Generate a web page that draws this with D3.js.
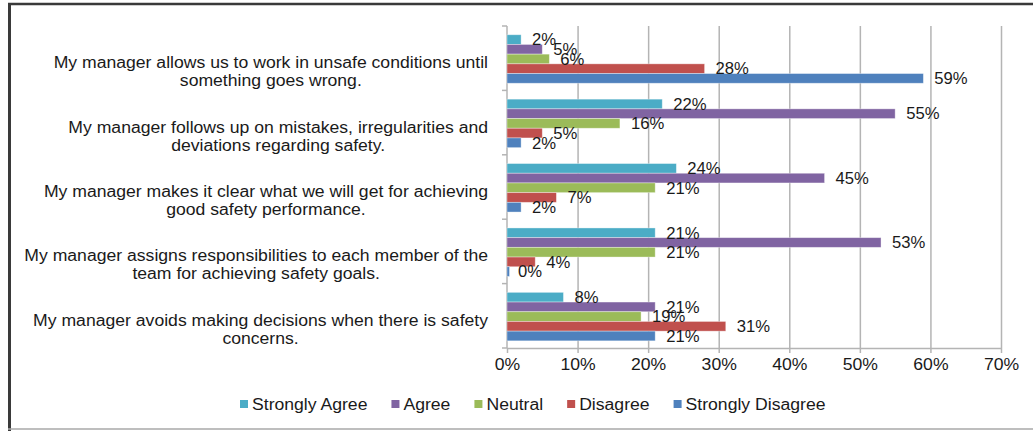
<!DOCTYPE html>
<html>
<head>
<meta charset="utf-8">
<script src="https://cdn.jsdelivr.net/npm/d3@7"></script>
<style>
  html, body { margin: 0; padding: 0; background: #fff; }
  svg { display: block; font-family: "Liberation Sans", Arial, sans-serif; }
</style>
</head>
<body>
<svg id="chart" width="1033" height="431"></svg>
<script>
// Survey statements (each split into its two display lines)
const categories = ["q1", "q2", "q3", "q4", "q5"];
const categoryLines = [
  ["My manager allows us to work in unsafe conditions until", "something goes wrong."],
  ["My manager follows up on mistakes, irregularities and", "deviations regarding safety."],
  ["My manager makes it clear what we will get for achieving", "good safety performance."],
  ["My manager assigns responsibilities to each member of the", "team for achieving safety goals."],
  ["My manager avoids making decisions when there is safety", "concerns."]
];

// Response shares in percent, one array per answer
const seriesNames = ["Strongly Agree", "Agree", "Neutral", "Disagree", "Strongly Disagree"];
const stronglyAgree    = [2, 22, 24, 21, 8];
const agree            = [5, 55, 45, 53, 21];
const neutral          = [6, 16, 21, 21, 19];
const disagree         = [28, 5, 7, 4, 31];
const stronglyDisagree = [59, 2, 2, 0, 21];
const seriesColors = ["#4BACC6", "#8064A2", "#9BBB59", "#C0504D", "#4F81BD"];

const xTicks = [0, 10, 20, 30, 40, 50, 60, 70];

const seriesValues = [stronglyAgree, agree, neutral, disagree, stronglyDisagree];

const svg = d3.select("#chart");
const W = 1033, H = 431;

const plot = { left: 507, right: 1001, top: 26, bottom: 348 };

const x = d3.scaleLinear().domain([0, 70]).range([plot.left, plot.right]);
const y = d3.scaleBand().domain(categories).range([plot.top, plot.bottom]);
const ySub = d3.scaleBand().domain(seriesNames)
  .range([0, y.bandwidth()]).paddingOuter(0.82).align(0.55);

const gridColor = "#b4b4b4";
const textColor = "#1a1a1a";

// Widen a text element's glyphs horizontally by factor k
function widen(sel, k) {
  sel.each(function () {
    const w = this.getComputedTextLength();
    d3.select(this).attr("textLength", w * k).attr("lengthAdjust", "spacingAndGlyphs");
  });
  return sel;
}

// Frame around the chart
svg.append("line").attr("x1", 8).attr("x2", W).attr("y1", 4).attr("y2", 4)
  .attr("stroke", "#3a3a3a").attr("stroke-width", 2.5);
svg.append("line").attr("x1", 9.5).attr("x2", 9.5).attr("y1", 3).attr("y2", H)
  .attr("stroke", "#3a3a3a").attr("stroke-width", 3);
svg.append("line").attr("x1", 8).attr("x2", W).attr("y1", 429).attr("y2", 429)
  .attr("stroke", "#a8a8a8").attr("stroke-width", 1.5);

// Vertical gridlines
svg.append("g")
  .attr("transform", `translate(0,${plot.bottom})`)
  .call(d3.axisBottom(x).tickValues(xTicks.slice(1)).tickSize(-(plot.bottom - plot.top)).tickFormat(""))
  .call(g => g.select(".domain").remove())
  .call(g => g.selectAll(".tick line").attr("stroke", gridColor).attr("stroke-width", 1.5));

// Bottom axis with percent labels
const xAxis = svg.append("g")
  .attr("transform", `translate(0,${plot.bottom})`)
  .call(d3.axisBottom(x).tickValues(xTicks).tickSize(5).tickPadding(6).tickFormat(d => d + "%"));
xAxis.select(".domain").attr("stroke", gridColor).attr("stroke-width", 1.5)
  .attr("d", `M${plot.left},0.5H${plot.right}`);
xAxis.selectAll(".tick line").attr("stroke", gridColor).attr("stroke-width", 1.5);
xAxis.selectAll(".tick text").attr("fill", textColor)
  .attr("font-size", 16).attr("font-family", "Liberation Sans, Arial, sans-serif")
  .call(widen, 1.1);

// Left axis line with ticks at category boundaries
svg.append("line").attr("x1", plot.left).attr("x2", plot.left)
  .attr("y1", plot.top).attr("y2", plot.bottom)
  .attr("stroke", gridColor).attr("stroke-width", 1.5);
const boundaries = categories.map(c => y(c)).concat([plot.bottom]);
svg.append("g").selectAll("line").data(boundaries).join("line")
  .attr("x1", plot.left - 5).attr("x2", plot.left)
  .attr("y1", d => d).attr("y2", d => d)
  .attr("stroke", gridColor).attr("stroke-width", 1.5);

// Bars
const rows = [];
categories.forEach((c, ci) => {
  seriesNames.forEach((s, si) => {
    rows.push({ cat: c, series: s, value: seriesValues[si][ci], color: seriesColors[si] });
  });
});

const barG = svg.append("g");
barG.selectAll("rect").data(rows).join("rect")
  .attr("x", x(0))
  .attr("y", d => y(d.cat) + ySub(d.series))
  .attr("width", d => Math.max(x(d.value) - x(0), 2.5))
  .attr("height", ySub.bandwidth())
  .attr("fill", d => d.color)
  .attr("stroke", "rgba(255,255,255,0.45)")
  .attr("stroke-width", 0.8);

// Value labels
svg.append("g").selectAll("text").data(rows).join("text")
  .attr("x", d => x(d.value) + 11)
  .attr("y", d => y(d.cat) + ySub(d.series) + ySub.bandwidth() / 2 + 5.8)
  .attr("font-size", 16)
  .attr("fill", textColor)
  .text(d => d.value + "%")
  .call(widen, 1.04);

// Category labels: two centred lines, block right-aligned next to the axis
const labelRight = 488;
const catG = svg.append("g");
categories.forEach((c, ci) => {
  const g = catG.append("g");
  const cy = y(c) + y.bandwidth() / 2;
  const texts = categoryLines[ci].map((line, li) =>
    g.append("text")
      .attr("y", cy + 10 + li * 18)
      .attr("font-size", 16)
      .attr("fill", textColor)
      .attr("text-anchor", "middle")
      .text(line)
  );
  const widths = texts.map(t => t.node().getComputedTextLength() * 1.1);
  texts.forEach((t, i) => t.attr("textLength", widths[i]).attr("lengthAdjust", "spacingAndGlyphs"));
  const blockW = d3.max(widths);
  texts.forEach(t => t.attr("x", labelRight - blockW / 2));
});

// Legend
const legend = svg.append("g").attr("transform", "translate(0,404)");
let lx = 240;
seriesNames.forEach((s, si) => {
  const item = legend.append("g").attr("transform", `translate(${lx},0)`);
  item.append("rect").attr("x", 0).attr("y", -4).attr("width", 8).attr("height", 8)
    .attr("fill", seriesColors[si]);
  const t = item.append("text").attr("x", 12).attr("y", 5.8)
    .attr("font-size", 16).attr("fill", textColor).text(s);
  const w = t.node().getComputedTextLength() * 1.1;
  t.attr("textLength", w).attr("lengthAdjust", "spacingAndGlyphs");
  lx += 12 + w + 24;
});
</script>
</body>
</html>
